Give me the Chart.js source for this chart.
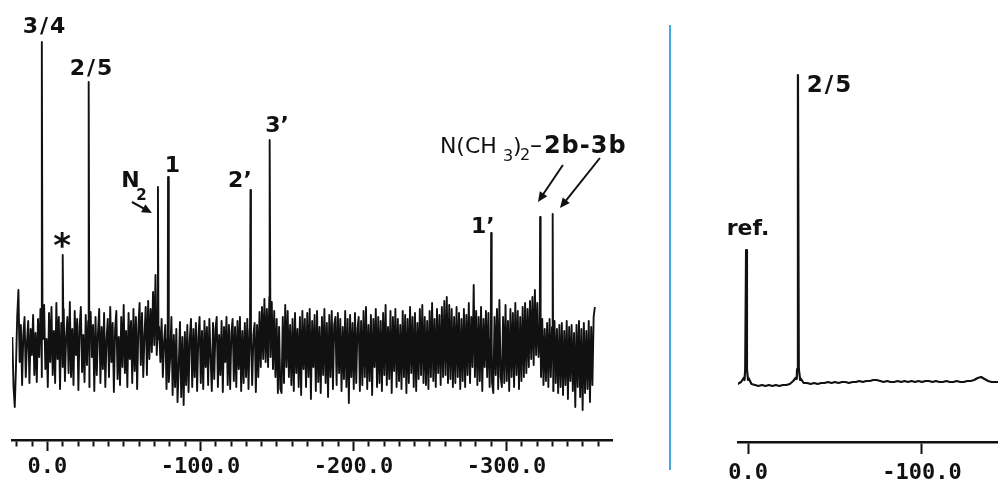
<!DOCTYPE html>
<html>
<head>
<meta charset="utf-8">
<script src="https://cdn.jsdelivr.net/npm/chart.js@4/dist/chart.umd.min.js"></script>
<style>
  html, body { margin: 0; padding: 0; background: #fff; overflow: hidden; }
  body { width: 998px; height: 479px; position: relative; }
  #left { position: absolute; left: 0; top: 0; }
  #right { position: absolute; left: 680px; top: 0; }
  #divider { position: absolute; left: 669px; top: 25px; width: 1.5px; height: 445px; background: #45a7dc; }
</style>
</head>
<body>
<canvas id="left" width="640" height="484"></canvas>
<div id="divider"></div>
<canvas id="right" width="318" height="498"></canvas>
<script>
// left spectrum: noisy trace, sampled every 0.8 ppm from +23 ppm
const leftNoiseStart = 23;
const leftNoiseStep = 0.8;
const leftNoise = [
  10, -40, -60, -20, 30, 57, -15, 22, -38, 12, 30, -30, 5, 26, -36, 18, -8, 32, -28, 14,
  -35, 28, -10, 38, -30, 20, 42, -22, 8, -40, 34, -15, 40, -28, 16, -36, 44, -12, 30, -42,
  24, -20, 38, -34, 10, 30, -26, 45, -30, 18, -38, 36, -8, 28, -43, 20, 40, -25, 12, -35,
  32, -18, 26, -40, 35, -10, 22, -44, 30, -28, 14, 38, -36, 20, -22, 34, -40, 8, 28, -30,
  40, -15, 24, -45, 18, 36, -32, 10, -38, 30, -20, 42, -26, 16, -40, 34, -12, 26, -36, 38,
  -24, 30, -42, 20, 44, -18, 34, -30, 12, 40, -28, 46, -12, 38, -5, 55, 2, 72, -8, 62,
  20, -15, 28, -30, 5, 22, -42, 15, -35, -10, 30, -48, 12, -40, 18, -55, -20, 25, -50, 10,
  -58, 15, -38, 22, -45, 8, 28, -40, 18, -30, 24, -44, 10, 30, -36, 16, -42, 26, -20, 20,
  -38, 28, -10, -44, 24, -32, 18, 30, -40, 12, -28, 26, -45, 20, -15, 30, -38, 22, -42, 14,
  28, -34, 20, -40, 26, -22, 30, -44, 16, -36, 24, -30, 28, -42, 18, 30, -38, 12, 24, -45,
  22, -30, 35, -20, 40, -12, 48, -15, 38, -20, 50, -10, 45, -22, 36, -30, 28, -46, 20, -42,
  -46, 30, -36, 42, -20, 36, -30, 22, -38, 28, -44, 34, -26, 18, -40, 30, -48, 36, -22, 28,
  -40, 34, -30, 38, -52, 26, -20, 32, -44, 36, -35, 20, -46, 30, -28, 38, -36, 24, -50, 32,
  -30, 36, -42, 22, 30, -38, 34, -26, 28, -44, 20, -32, 36, -40, 28, -56, 32, -30, 24, -42,
  34, -36, 18, 30, -44, 26, -38, 36, -30, 40, -42, 22, -34, 32, -48, 28, -20, 38, -40, 30,
  -36, 26, -44, 34, -28, 42, -38, 20, -32, 36, -46, 30, -24, 38, -40, 28, -34, 22, -42, 36,
  -30, 32, -46, 28, -36, 40, -26, 30, -40, 34, -44, 24, -32, 38, -28, 42, -36, 30, -38, 26,
  -42, 36, -30, 44, -34, 28, -40, 38, -26, 32, -38, 40, -30, 46, -28, 50, -36, 42, -32, 38,
  -40, 30, -36, 40, -30, 34, -42, 28, -34, 38, -40, 32, -28, 44, -36, 30, -20, 62, -30, 36,
  -38, 30, -34, 40, -44, 28, -20, 36, -30, 34, -40, 26, -36, -46, 30, -28, 38, -42, 47, -30,
  -40, 30, -36, 42, -34, 26, -44, 38, -30, 34, -40, 44, -28, 36, -42, 30, -34, 40, -30, 44,
  -26, 38, -20, 46, -12, 50, -18, 57, -8, 44, -10, 20, -30, 28, -38, 18, -34, 24, -40, 28,
  -30, 20, -44, 26, -36, 18, -46, 22, -40, 24, -48, 16, -38, 26, -52, 20, -34, 22, -44, 14,
  -60, 22, -40, 26, -50, 18, -63, 24, -46, 16, -42, 26, -55, 20, -38, 30, 40
];
// left peaks: 3/4, *, 2/5, N2, 1, 2', 3', 1', 2b, 3b
const leftPeakShifts = [3.6, -10.1, -27.1, -72.2, -78.8, -132.7, -145.4, -290, -322, -330.4];
const leftPeakHeights = [305, 92, 265, 160, 170, 157, 207, 114, 130, 133];

// right spectrum: baseline sampled every 2 ppm from +6 ppm
const rightBaseStart = 6;
const rightBaseStep = 2;
const rightBase = [
  -1, 1, 3, 3, -1, -2, -3, -2, -3, -2, -3, -2, -3, -2, -2, -1, 2, 4, 3, 0,
  0, -1, 0, -1, 0, 0, 1, 0, 1, 0, 1, 1, 0, 1, 1, 2, 1, 2, 2, 3,
  3, 2, 1, 2, 1, 1, 2, 1, 2, 1, 2, 1, 2, 1, 2, 2, 1, 2, 1, 1,
  2, 1, 1, 2, 1, 1, 2, 2, 3, 5, 6, 4, 2, 1, 1, 1
];
// right peaks: ref., 2/5
const rightPeakShifts = [1.1, -28.7];
const rightPeakHeights = [133, 308];

const leftPoints = leftNoise.map((v, i) => ({ x: leftNoiseStart - i * leftNoiseStep, y: v }));
leftPeakShifts.forEach((p, k) => {
  leftPoints.push({ x: p + 0.35, y: 8 }, { x: p, y: leftPeakHeights[k] }, { x: p - 0.35, y: 8 });
});
leftPoints.sort((a, b) => b.x - a.x);

const rightPoints = rightBase.map((v, i) => ({ x: rightBaseStart - i * rightBaseStep, y: v }));
rightPeakShifts.forEach((p, k) => {
  rightPoints.push({ x: p + 1.4, y: 5 }, { x: p + 0.5, y: 14 }, { x: p, y: rightPeakHeights[k] },
    { x: p - 0.5, y: 14 }, { x: p - 1.4, y: 5 });
});
rightPoints.sort((a, b) => b.x - a.x);

const ink = '#111';
const bold = (s) => 'bold ' + s + 'px "DejaVu Sans"';

// peak labels and arrows, drawn through the chart scales
const notesPlugin = {
  id: 'notes',
  afterDatasetsDraw(chart, args, opts) {
    const { ctx } = chart;
    const x = chart.scales.x, y = chart.scales.y;
    ctx.save();
    ctx.fillStyle = ink;
    ctx.strokeStyle = ink;
    (opts.arrows || []).forEach((a) => {
      const x1 = x.getPixelForValue(a.from[0]), y1 = y.getPixelForValue(a.from[1]);
      const x2 = x.getPixelForValue(a.to[0]), y2 = y.getPixelForValue(a.to[1]);
      const ang = Math.atan2(y2 - y1, x2 - x1);
      ctx.lineWidth = 2;
      ctx.beginPath();
      ctx.moveTo(x1, y1);
      ctx.lineTo(x2 - 6 * Math.cos(ang), y2 - 6 * Math.sin(ang));
      ctx.stroke();
      ctx.beginPath();
      ctx.moveTo(x2, y2);
      ctx.lineTo(x2 - 10 * Math.cos(ang) + 4.5 * Math.sin(ang), y2 - 10 * Math.sin(ang) - 4.5 * Math.cos(ang));
      ctx.lineTo(x2 - 10 * Math.cos(ang) - 4.5 * Math.sin(ang), y2 - 10 * Math.sin(ang) + 4.5 * Math.cos(ang));
      ctx.closePath();
      ctx.fill();
    });
    (opts.texts || []).forEach((t) => {
      ctx.font = t.font || bold(22);
      ctx.letterSpacing = t.spacing || '0px';
      ctx.textAlign = t.align || 'center';
      ctx.textBaseline = 'alphabetic';
      ctx.fillText(t.text, x.getPixelForValue(t.ppm) + (t.dx || 0), y.getPixelForValue(t.val) + (t.dy || 0));
    });
    ctx.restore();
  }
};

function xAxis(min, max, step, tickLength, pad) {
  return {
    type: 'linear',
    reverse: true,
    min: min,
    max: max,
    border: { display: true, color: ink, width: 2.5 },
    grid: {
      display: true,
      drawOnChartArea: false,
      drawTicks: true,
      tickLength: tickLength,
      tickWidth: 2,
      tickColor: ink,
      tickBorderDash: (c) => (c.tick && c.tick.value % 100 !== 0 ? [5, 60] : [])
    },
    ticks: {
      stepSize: step,
      autoSkip: false,
      includeBounds: false,
      maxRotation: 0,
      padding: pad,
      color: ink,
      font: { family: 'DejaVu Sans Mono', size: 22, weight: 'bold', lineHeight: 1 },
      callback: (v) => (v % 100 === 0 ? v.toFixed(1) : '')
    }
  };
}

const baseOptions = {
  responsive: false,
  animation: false,
  events: [],
  devicePixelRatio: 1
};

new Chart(document.getElementById('left'), {
  type: 'line',
  data: {
    datasets: [{
      data: leftPoints,
      borderColor: ink,
      borderWidth: 1.9,
      borderJoinStyle: 'round',
      pointRadius: 0,
      tension: 0,
      fill: false
    }]
  },
  options: Object.assign({}, baseOptions, {
    layout: { padding: { left: 12, right: 28, top: 10, bottom: 1 } },
    plugins: {
      legend: { display: false },
      tooltip: { enabled: false },
      notes: {
        texts: [
          { text: '3/4', ppm: 1.6, val: 314, spacing: '2px' },
          { text: '2/5', ppm: -29.1, val: 272, spacing: '2px' },
          { text: '*', ppm: -9.5, val: 90, font: bold(34) },
          { text: 'N', ppm: -54.2, val: 160 },
          { text: '2', ppm: -61.4, val: 147, font: bold(15) },
          { text: '1', ppm: -81.7, val: 175 },
          { text: '2\u2019', ppm: -125.8, val: 160 },
          { text: '3\u2019', ppm: -150, val: 215 },
          { text: '1\u2019', ppm: -284.6, val: 114 },
          { text: 'N(CH', ppm: -256.5, val: 194, align: 'left', font: '22px "DejaVu Sans"' },
          { text: '3', ppm: -256.5, val: 194, dx: 63, dy: 8, align: 'left', font: '16px "DejaVu Sans"' },
          { text: ')', ppm: -256.5, val: 194, dx: 73, align: 'left', font: '22px "DejaVu Sans"' },
          { text: '2', ppm: -256.5, val: 194, dx: 80, dy: 7, align: 'left', font: '16px "DejaVu Sans"' },
          { text: '\u2013', ppm: -256.5, val: 194, dx: 90, align: 'left', font: '24px "DejaVu Sans"' },
          { text: '2b-3b', ppm: -256.5, val: 194, dx: 104, align: 'left', font: bold(24), spacing: '1px' }
        ],
        arrows: [
          { from: [-55.2, 145], to: [-68.3, 134] },
          { from: [-336.9, 182], to: [-320.6, 145] },
          { from: [-361.1, 189], to: [-335, 139] }
        ]
      }
    },
    scales: {
      x: xAxis(-369, 23.2, 10, 11, 5),
      y: { display: false, min: -93, max: 337 }
    }
  }),
  plugins: [notesPlugin]
});

new Chart(document.getElementById('right'), {
  type: 'line',
  data: {
    datasets: [{
      data: rightPoints,
      borderColor: ink,
      borderWidth: 2.2,
      borderJoinStyle: 'round',
      pointRadius: 0,
      tension: 0,
      fill: false
    }]
  },
  options: Object.assign({}, baseOptions, {
    layout: { padding: { left: 58, right: 0, top: 10, bottom: 6 } },
    plugins: {
      legend: { display: false },
      tooltip: { enabled: false },
      notes: {
        texts: [
          { text: 'ref.', ppm: 0, val: 148 },
          { text: '2/5', ppm: -47.1, val: 291, font: bold(23), spacing: '2px' }
        ]
      }
    },
    scales: {
      x: xAxis(-143.7, 5.75, 100, 12, 8),
      y: { display: false, min: -59, max: 373 }
    }
  }),
  plugins: [notesPlugin]
});
</script>
</body>
</html>
